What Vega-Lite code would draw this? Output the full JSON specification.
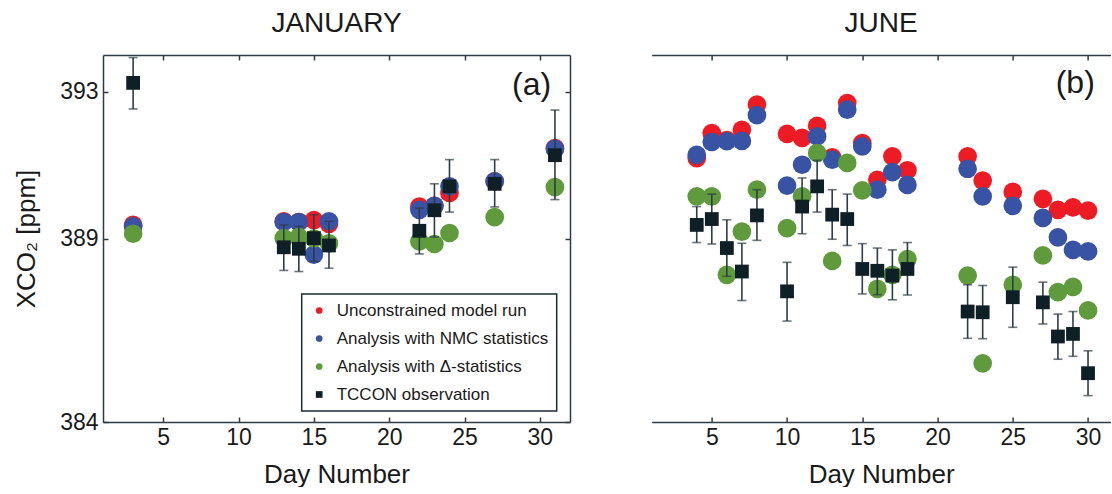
{
  "$schema": "https://vega.github.io/schema/vega-lite/v6.json",
  "padding": {"left": 13, "top": 10, "right": 0, "bottom": 0},
  "background": "white",
  "config": {
    "view": {"stroke": null},
    "font": "Liberation Sans",
    "legend": {"strokeWidth": 1.5},
    "axis": {"grid": false, "domainColor": "#2d3d44", "domainWidth": 1.5, "tickColor": "#2d3d44", "tickWidth": 1.5, "tickSize": -5,
             "labelFontSize": 23, "labelColor": "#1a1a1a", "labelFont": "Liberation Sans", "titleFont": "Liberation Sans",
             "titleFontSize": 26, "titleFontWeight": "normal", "titleColor": "#1a1a1a"}
  },
  "datasets": {
    "janM": [
      {"day": 3, "series": "Unconstrained model run", "value": 389.37},
      {"day": 13, "series": "Unconstrained model run", "value": 389.47},
      {"day": 14, "series": "Unconstrained model run", "value": 389.45},
      {"day": 15, "series": "Unconstrained model run", "value": 389.5},
      {"day": 16, "series": "Unconstrained model run", "value": 389.4},
      {"day": 22, "series": "Unconstrained model run", "value": 389.87},
      {"day": 23, "series": "Unconstrained model run", "value": 389.89},
      {"day": 24, "series": "Unconstrained model run", "value": 390.24},
      {"day": 27, "series": "Unconstrained model run", "value": 390.56},
      {"day": 31, "series": "Unconstrained model run", "value": 391.46},
      {"day": 3, "series": "Analysis with NMC statistics", "value": 389.33},
      {"day": 13, "series": "Analysis with NMC statistics", "value": 389.45},
      {"day": 14, "series": "Analysis with NMC statistics", "value": 389.45},
      {"day": 15, "series": "Analysis with NMC statistics", "value": 388.56},
      {"day": 16, "series": "Analysis with NMC statistics", "value": 389.47},
      {"day": 22, "series": "Analysis with NMC statistics", "value": 389.78},
      {"day": 23, "series": "Analysis with NMC statistics", "value": 389.89},
      {"day": 24, "series": "Analysis with NMC statistics", "value": 390.42},
      {"day": 27, "series": "Analysis with NMC statistics", "value": 390.56},
      {"day": 31, "series": "Analysis with NMC statistics", "value": 391.44},
      {"day": 3, "series": "Analysis with Δ-statistics", "value": 389.13},
      {"day": 13, "series": "Analysis with Δ-statistics", "value": 389.01},
      {"day": 14, "series": "Analysis with Δ-statistics", "value": 389.04},
      {"day": 15, "series": "Analysis with Δ-statistics", "value": 389.0},
      {"day": 16, "series": "Analysis with Δ-statistics", "value": 388.87},
      {"day": 22, "series": "Analysis with Δ-statistics", "value": 388.92},
      {"day": 23, "series": "Analysis with Δ-statistics", "value": 388.85},
      {"day": 24, "series": "Analysis with Δ-statistics", "value": 389.15},
      {"day": 27, "series": "Analysis with Δ-statistics", "value": 389.58},
      {"day": 31, "series": "Analysis with Δ-statistics", "value": 390.4}
    ],
    "janT": [
      {"day": 3, "series": "TCCON observation", "value": 393.24, "lo": 392.53, "hi": 393.93},
      {"day": 13, "series": "TCCON observation", "value": 388.76, "lo": 388.13, "hi": 389.37},
      {"day": 14, "series": "TCCON observation", "value": 388.72, "lo": 388.1, "hi": 389.33},
      {"day": 15, "series": "TCCON observation", "value": 389.01, "lo": 388.38, "hi": 389.65},
      {"day": 16, "series": "TCCON observation", "value": 388.81, "lo": 388.19, "hi": 389.47},
      {"day": 22, "series": "TCCON observation", "value": 389.21, "lo": 388.58, "hi": 389.83},
      {"day": 23, "series": "TCCON observation", "value": 389.77, "lo": 389.04, "hi": 390.49},
      {"day": 24, "series": "TCCON observation", "value": 390.42, "lo": 389.72, "hi": 391.15},
      {"day": 27, "series": "TCCON observation", "value": 390.49, "lo": 389.86, "hi": 391.15},
      {"day": 31, "series": "TCCON observation", "value": 391.27, "lo": 390.06, "hi": 392.5}
    ],
    "junM": [
      {"day": 4, "series": "Unconstrained model run", "value": 391.19},
      {"day": 5, "series": "Unconstrained model run", "value": 391.87},
      {"day": 6, "series": "Unconstrained model run", "value": 391.68},
      {"day": 7, "series": "Unconstrained model run", "value": 391.96},
      {"day": 8, "series": "Unconstrained model run", "value": 392.65},
      {"day": 10, "series": "Unconstrained model run", "value": 391.85},
      {"day": 11, "series": "Unconstrained model run", "value": 391.74},
      {"day": 12, "series": "Unconstrained model run", "value": 392.07},
      {"day": 13, "series": "Unconstrained model run", "value": 391.21},
      {"day": 14, "series": "Unconstrained model run", "value": 392.69},
      {"day": 15, "series": "Unconstrained model run", "value": 391.6},
      {"day": 16, "series": "Unconstrained model run", "value": 390.6},
      {"day": 17, "series": "Unconstrained model run", "value": 391.24},
      {"day": 18, "series": "Unconstrained model run", "value": 390.86},
      {"day": 22, "series": "Unconstrained model run", "value": 391.24},
      {"day": 23, "series": "Unconstrained model run", "value": 390.58},
      {"day": 25, "series": "Unconstrained model run", "value": 390.27},
      {"day": 27, "series": "Unconstrained model run", "value": 390.08},
      {"day": 28, "series": "Unconstrained model run", "value": 389.78},
      {"day": 29, "series": "Unconstrained model run", "value": 389.85},
      {"day": 30, "series": "Unconstrained model run", "value": 389.76},
      {"day": 4, "series": "Analysis with NMC statistics", "value": 391.28},
      {"day": 5, "series": "Analysis with NMC statistics", "value": 391.63},
      {"day": 6, "series": "Analysis with NMC statistics", "value": 391.65},
      {"day": 7, "series": "Analysis with NMC statistics", "value": 391.66},
      {"day": 8, "series": "Analysis with NMC statistics", "value": 392.36},
      {"day": 10, "series": "Analysis with NMC statistics", "value": 390.44},
      {"day": 11, "series": "Analysis with NMC statistics", "value": 391.01},
      {"day": 12, "series": "Analysis with NMC statistics", "value": 391.78},
      {"day": 13, "series": "Analysis with NMC statistics", "value": 391.15},
      {"day": 14, "series": "Analysis with NMC statistics", "value": 392.51},
      {"day": 15, "series": "Analysis with NMC statistics", "value": 391.51},
      {"day": 16, "series": "Analysis with NMC statistics", "value": 390.33},
      {"day": 17, "series": "Analysis with NMC statistics", "value": 390.81},
      {"day": 18, "series": "Analysis with NMC statistics", "value": 390.46},
      {"day": 22, "series": "Analysis with NMC statistics", "value": 390.9},
      {"day": 23, "series": "Analysis with NMC statistics", "value": 390.15},
      {"day": 25, "series": "Analysis with NMC statistics", "value": 389.89},
      {"day": 27, "series": "Analysis with NMC statistics", "value": 389.56},
      {"day": 28, "series": "Analysis with NMC statistics", "value": 389.03},
      {"day": 29, "series": "Analysis with NMC statistics", "value": 388.69},
      {"day": 30, "series": "Analysis with NMC statistics", "value": 388.65},
      {"day": 4, "series": "Analysis with Δ-statistics", "value": 390.15},
      {"day": 5, "series": "Analysis with Δ-statistics", "value": 390.15},
      {"day": 6, "series": "Analysis with Δ-statistics", "value": 388.01},
      {"day": 7, "series": "Analysis with Δ-statistics", "value": 389.19},
      {"day": 8, "series": "Analysis with Δ-statistics", "value": 390.33},
      {"day": 10, "series": "Analysis with Δ-statistics", "value": 389.28},
      {"day": 11, "series": "Analysis with Δ-statistics", "value": 390.15},
      {"day": 12, "series": "Analysis with Δ-statistics", "value": 391.33},
      {"day": 13, "series": "Analysis with Δ-statistics", "value": 388.39},
      {"day": 14, "series": "Analysis with Δ-statistics", "value": 391.06},
      {"day": 15, "series": "Analysis with Δ-statistics", "value": 390.31},
      {"day": 16, "series": "Analysis with Δ-statistics", "value": 387.63},
      {"day": 17, "series": "Analysis with Δ-statistics", "value": 388.01},
      {"day": 18, "series": "Analysis with Δ-statistics", "value": 388.44},
      {"day": 22, "series": "Analysis with Δ-statistics", "value": 387.99},
      {"day": 23, "series": "Analysis with Δ-statistics", "value": 385.6},
      {"day": 25, "series": "Analysis with Δ-statistics", "value": 387.74},
      {"day": 27, "series": "Analysis with Δ-statistics", "value": 388.54},
      {"day": 28, "series": "Analysis with Δ-statistics", "value": 387.54},
      {"day": 29, "series": "Analysis with Δ-statistics", "value": 387.68},
      {"day": 30, "series": "Analysis with Δ-statistics", "value": 387.04}
    ],
    "junT": [
      {"day": 4, "series": "TCCON observation", "value": 389.37, "lo": 388.89, "hi": 389.87},
      {"day": 5, "series": "TCCON observation", "value": 389.53, "lo": 388.85, "hi": 390.21},
      {"day": 6, "series": "TCCON observation", "value": 388.74, "lo": 387.97, "hi": 389.51},
      {"day": 7, "series": "TCCON observation", "value": 388.1, "lo": 387.31, "hi": 388.87},
      {"day": 8, "series": "TCCON observation", "value": 389.63, "lo": 388.95, "hi": 390.33},
      {"day": 10, "series": "TCCON observation", "value": 387.56, "lo": 386.75, "hi": 388.35},
      {"day": 11, "series": "TCCON observation", "value": 389.87, "lo": 389.13, "hi": 390.65},
      {"day": 12, "series": "TCCON observation", "value": 390.42, "lo": 389.72, "hi": 391.13},
      {"day": 13, "series": "TCCON observation", "value": 389.65, "lo": 388.98, "hi": 390.33},
      {"day": 14, "series": "TCCON observation", "value": 389.53, "lo": 388.81, "hi": 390.21},
      {"day": 15, "series": "TCCON observation", "value": 388.17, "lo": 387.49, "hi": 388.86},
      {"day": 16, "series": "TCCON observation", "value": 388.12, "lo": 387.47, "hi": 388.74},
      {"day": 17, "series": "TCCON observation", "value": 387.99, "lo": 387.33, "hi": 388.69},
      {"day": 18, "series": "TCCON observation", "value": 388.17, "lo": 387.46, "hi": 388.89},
      {"day": 22, "series": "TCCON observation", "value": 387.01, "lo": 386.28, "hi": 387.74},
      {"day": 23, "series": "TCCON observation", "value": 386.99, "lo": 386.27, "hi": 387.72},
      {"day": 25, "series": "TCCON observation", "value": 387.4, "lo": 386.58, "hi": 388.22},
      {"day": 27, "series": "TCCON observation", "value": 387.26, "lo": 386.67, "hi": 387.81},
      {"day": 28, "series": "TCCON observation", "value": 386.33, "lo": 385.71, "hi": 386.94},
      {"day": 29, "series": "TCCON observation", "value": 386.4, "lo": 385.79, "hi": 387.01},
      {"day": 30, "series": "TCCON observation", "value": 385.33, "lo": 384.72, "hi": 385.94}
    ]
  },
  "spacing": 81.6,
  "bounds": "flush",
  "resolve": {"scale": {"color": "independent", "shape": "independent"}},
  "hconcat": [
    {
      "width": 467,
      "height": 367,
      "title": {"text": "JANUARY", "fontSize": 28, "fontWeight": "normal", "color": "#1a1a1a", "font": "Liberation Sans", "baseline": "alphabetic", "offset": -6},
      "layer": [
        {
          "data": {"name": "janM"},
          "mark": {"type": "point", "filled": true, "size": 350, "opacity": 1},
          "encoding": {
            "x": {"field": "day", "type": "quantitative", "scale": {"domain": [1, 32], "nice": false, "zero": false},
                  "axis": {"orient": "bottom", "values": [5, 10, 15, 20, 25, 30], "title": "Day Number", "labelPadding": 9, "titlePadding": 12}},
            "y": {"field": "value", "type": "quantitative", "scale": {"domain": [384, 394], "nice": false, "zero": false},
                  "axis": {"orient": "left", "values": [384, 389, 393], "title": "XCO₂ [ppm]", "labelPadding": 10, "titlePadding": 20}},
            "color": {"field": "series", "type": "nominal",
                      "scale": {"domain": ["Unconstrained model run", "Analysis with NMC statistics", "Analysis with Δ-statistics", "TCCON observation"],
                                "range": ["#ed1c24", "#3953a4", "#5f9b3c", "#0e1f25"]},
                      "legend": {"orient": "none", "legendX": 198.7, "legendY": 239, "title": null, "labelFontSize": 17, "labelColor": "#1a1a1a",
                                 "labelFont": "Liberation Sans", "labelLimit": 400, "symbolSize": 45, "padding": 8, "symbolOffset": 1, "labelOffset": 9,
                                 "rowPadding": 10, "strokeColor": "#1a2a30", "fillColor": "white", "symbolStrokeWidth": 0}},
            "shape": {"field": "series", "type": "nominal",
                      "scale": {"domain": ["Unconstrained model run", "Analysis with NMC statistics", "Analysis with Δ-statistics", "TCCON observation"],
                                "range": ["circle", "circle", "circle", "square"]}}
          }
        },
        {
          "data": {"name": "janT"},
          "mark": {"type": "errorbar", "color": "#2d3d44", "ticks": {"size": 9}, "thickness": 1.6},
          "encoding": {
            "x": {"field": "day", "type": "quantitative", "axis": null},
            "y": {"field": "lo", "type": "quantitative", "axis": null},
            "y2": {"field": "hi"}
          }
        },
        {
          "data": {"name": "janT"},
          "mark": {"type": "point", "filled": true, "size": 190, "opacity": 1},
          "encoding": {
            "x": {"field": "day", "type": "quantitative", "axis": {"orient": "top", "labels": false, "title": null, "values": [5, 10, 15, 20, 25, 30]}},
            "y": {"field": "value", "type": "quantitative", "axis": {"orient": "right", "labels": false, "title": null, "values": [384, 389, 393]}},
            "color": {"field": "series", "type": "nominal"},
            "shape": {"field": "series", "type": "nominal"}
          }
        },
        {
          "data": {"values": [{"label": "(a)"}]},
          "mark": {"type": "text", "fontSize": 32, "font": "Liberation Sans", "color": "#1a1a1a", "baseline": "middle", "align": "center"},
          "encoding": {
            "x": {"datum": 29.45, "type": "quantitative", "axis": null},
            "y": {"datum": 393.18, "type": "quantitative", "axis": null},
            "text": {"field": "label"}
          }
        }
      ]
    },
    {
      "width": 459,
      "height": 367,
      "title": {"text": "JUNE", "fontSize": 28, "fontWeight": "normal", "color": "#1a1a1a", "font": "Liberation Sans", "baseline": "alphabetic", "offset": -6},
      "layer": [
        {
          "data": {"name": "junM"},
          "mark": {"type": "point", "filled": true, "size": 350, "opacity": 1},
          "encoding": {
            "x": {"field": "day", "type": "quantitative", "scale": {"domain": [1, 31.5], "nice": false, "zero": false},
                  "axis": {"orient": "bottom", "values": [5, 10, 15, 20, 25, 30], "title": "Day Number", "labelPadding": 9, "titlePadding": 12}},
            "y": {"field": "value", "type": "quantitative", "scale": {"domain": [384, 394], "nice": false, "zero": false},
                  "axis": {"orient": "left", "values": [384, 389, 393], "title": null, "labelPadding": 10}},
            "color": {"field": "series", "type": "nominal",
                      "scale": {"domain": ["Unconstrained model run", "Analysis with NMC statistics", "Analysis with Δ-statistics", "TCCON observation"],
                                "range": ["#ed1c24", "#3953a4", "#5f9b3c", "#0e1f25"]},
                      "legend": null},
            "shape": {"field": "series", "type": "nominal",
                      "scale": {"domain": ["Unconstrained model run", "Analysis with NMC statistics", "Analysis with Δ-statistics", "TCCON observation"],
                                "range": ["circle", "circle", "circle", "square"]}, "legend": null}
          }
        },
        {
          "data": {"name": "junT"},
          "mark": {"type": "errorbar", "color": "#2d3d44", "ticks": {"size": 9}, "thickness": 1.6},
          "encoding": {
            "x": {"field": "day", "type": "quantitative", "axis": null},
            "y": {"field": "lo", "type": "quantitative", "axis": null},
            "y2": {"field": "hi"}
          }
        },
        {
          "data": {"name": "junT"},
          "mark": {"type": "point", "filled": true, "size": 190, "opacity": 1},
          "encoding": {
            "x": {"field": "day", "type": "quantitative", "axis": {"orient": "top", "labels": false, "title": null, "values": [5, 10, 15, 20, 25, 30]}},
            "y": {"field": "value", "type": "quantitative", "axis": null},
            "color": {"field": "series", "type": "nominal"},
            "shape": {"field": "series", "type": "nominal"}
          }
        },
        {
          "data": {"values": [{"label": "(b)"}]},
          "mark": {"type": "text", "fontSize": 32, "font": "Liberation Sans", "color": "#1a1a1a", "baseline": "middle", "align": "center"},
          "encoding": {
            "x": {"datum": 29.15, "type": "quantitative", "axis": null},
            "y": {"datum": 393.25, "type": "quantitative", "axis": null},
            "text": {"field": "label"}
          }
        }
      ]
    }
  ]
}
